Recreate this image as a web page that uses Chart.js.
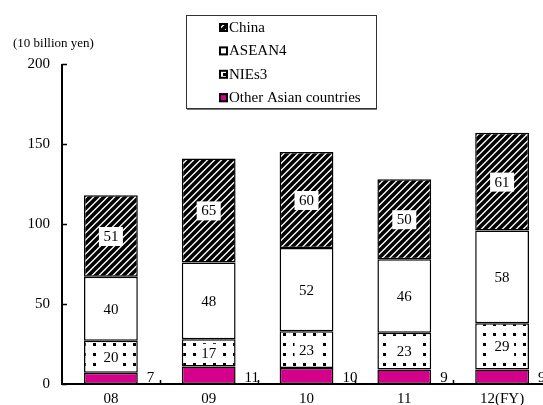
<!DOCTYPE html>
<html><head><meta charset="utf-8">
<script src="https://cdn.jsdelivr.net/npm/chart.js@4"></script>
<style>
html,body{margin:0;padding:0;background:#fff;overflow:hidden}
#wrap{width:543px;height:405px;overflow:hidden;position:relative;background:#fff}
canvas{display:block}
</style></head><body>
<div id="wrap"><canvas id="c" width="560" height="405"></canvas></div>
<script>
// Fiscal years and regional breakdown (10 billion yen)
const categories = ['08', '09', '10', '11', '12(FY)'];
const otherAsia = [7, 11, 10, 9, 9];
const nies3 = [20, 17, 23, 23, 29];
const asean4 = [40, 48, 52, 46, 58];
const china = [51, 65, 60, 50, 61];
const yTicks = [0, 50, 100, 150, 200];
const unitLabel = '(10 billion yen)';

const SERIF = "'Liberation Serif', 'Times New Roman', serif";

function hatchPattern() {
  const s = 7;
  const c = document.createElement('canvas');
  c.width = s; c.height = s;
  const g = c.getContext('2d');
  g.fillStyle = '#fff'; g.fillRect(0, 0, s, s);
  g.strokeStyle = '#000'; g.lineWidth = 3.6; g.lineCap = 'square';
  g.beginPath();
  g.moveTo(-2, s + 2); g.lineTo(s + 2, -2);
  g.moveTo(-2, 2); g.lineTo(2, -2);
  g.moveTo(s - 2, s + 2); g.lineTo(s + 2, s - 2);
  g.stroke();
  return g.createPattern(c, 'repeat');
}
function dotPattern() {
  const c = document.createElement('canvas');
  c.width = 10; c.height = 10;
  const g = c.getContext('2d');
  g.fillStyle = '#fff'; g.fillRect(0, 0, 10, 10);
  g.fillStyle = '#000';
  g.fillRect(3, 3, 3, 3);
  return g.createPattern(c, 'repeat');
}
const hatch = hatchPattern();
const dots = dotPattern();
const magenta = '#d4008c';

// axis lines, inward tick marks, value labels, legend and unit caption
const decorations = {
  id: 'decorations',
  afterDatasetsDraw(chart) {
    const g = chart.ctx;
    const x = chart.scales.x, y = chart.scales.y;
    const area = chart.chartArea;
    g.save();
    // value labels
    chart.data.datasets.forEach((ds, di) => {
      const meta = chart.getDatasetMeta(di);
      meta.data.forEach((bar, i) => {
        const txt = String(ds.data[i]);
        g.font = '15px ' + SERIF;
        g.fillStyle = '#000';
        if (ds.labelStyle === 'side') {
          g.textAlign = 'left'; g.textBaseline = 'alphabetic';
          g.fillText(txt, bar.x + bar.width / 2 + 9, bar.base - 2);
          return;
        }
        const cy = (bar.y + bar.base) / 2;
        if (ds.labelStyle === 'box') {
          const w = g.measureText(txt).width + 9;
          g.fillStyle = '#fff';
          g.fillRect(bar.x - w / 2, cy - 9, w, 19);
          g.fillStyle = '#000';
        }
        g.textAlign = 'center'; g.textBaseline = 'middle';
        g.fillText(txt, bar.x, cy + 1);
      });
    });
    // axes
    g.strokeStyle = '#000'; g.lineWidth = 2;
    g.beginPath();
    g.moveTo(area.left, area.top); g.lineTo(area.left, area.bottom);
    g.lineTo(area.right, area.bottom);
    g.stroke();
    g.lineWidth = 1.5;
    g.beginPath();
    yTicks.forEach(v => {
      const py = Math.round(y.getPixelForValue(v)) + 0.5;
      g.moveTo(area.left, py); g.lineTo(area.left + 5, py);
    });
    const step = x.getPixelForValue(1) - x.getPixelForValue(0);
    categories.forEach((c, i) => {
      const px = Math.round(x.getPixelForValue(i) + step / 2) + 0.5;
      g.moveTo(px, area.bottom); g.lineTo(px, area.bottom - 4);
    });
    g.stroke();
    // unit caption
    g.font = '13px ' + SERIF; g.fillStyle = '#000';
    g.textAlign = 'left'; g.textBaseline = 'middle';
    g.fillText(unitLabel, 13, 44);
    // legend
    g.strokeStyle = '#333'; g.lineWidth = 1;
    g.strokeRect(186.5, 15.5, 190, 93);
    g.strokeStyle = '#777';
    g.beginPath(); g.moveTo(187, 109.5); g.lineTo(377, 109.5); g.stroke();
    const order = [3, 2, 1, 0];
    order.forEach((di, r) => {
      const ds = chart.data.datasets[di];
      const cy = 27 + r * 23.4;
      g.fillStyle = ds.backgroundColor;
      g.fillRect(219, cy - 4, 9, 9);
      g.strokeStyle = '#000'; g.lineWidth = 2;
      g.strokeRect(220, cy - 3, 7, 7);
      g.fillStyle = '#000';
      g.font = '15px ' + SERIF;
      g.textAlign = 'left'; g.textBaseline = 'middle';
      g.fillText(ds.label, 229, cy + 1);
    });
    g.restore();
  }
};

new Chart(document.getElementById('c'), {
  type: 'bar',
  data: {
    labels: categories,
    datasets: [
      { label: 'Other Asian countries', data: otherAsia, backgroundColor: magenta, labelStyle: 'side' },
      { label: 'NIEs3', data: nies3, backgroundColor: dots, labelStyle: 'box' },
      { label: 'ASEAN4', data: asean4, backgroundColor: '#fff', labelStyle: 'plain' },
      { label: 'China', data: china, backgroundColor: hatch, labelStyle: 'box' }
    ]
  },
  options: {
    responsive: false,
    animation: false,
    devicePixelRatio: 1,
    layout: { padding: { top: 64, right: 9, left: 0, bottom: 0 } },
    plugins: { legend: { display: false }, tooltip: { enabled: false }, title: { display: false } },
    datasets: {
      bar: { borderColor: '#000', borderWidth: 1.5, borderSkipped: false, barPercentage: 0.55, categoryPercentage: 1 }
    },
    scales: {
      x: {
        stacked: true,
        grid: { display: false, drawTicks: false },
        border: { display: false },
        ticks: { color: '#000', font: { family: SERIF, size: 15 }, padding: 6, maxRotation: 0 },
        afterFit(s) { s.height = 21; }
      },
      y: {
        stacked: true, min: 0, max: 200,
        afterBuildTicks(s) { s.ticks = yTicks.map(v => ({ value: v })); },
        grid: { display: false, drawTicks: false },
        border: { display: false },
        ticks: { color: '#000', font: { family: SERIF, size: 15 }, padding: 12 },
        afterFit(s) { s.width = 62; }
      }
    }
  },
  plugins: [decorations]
});
</script>
</body></html>
